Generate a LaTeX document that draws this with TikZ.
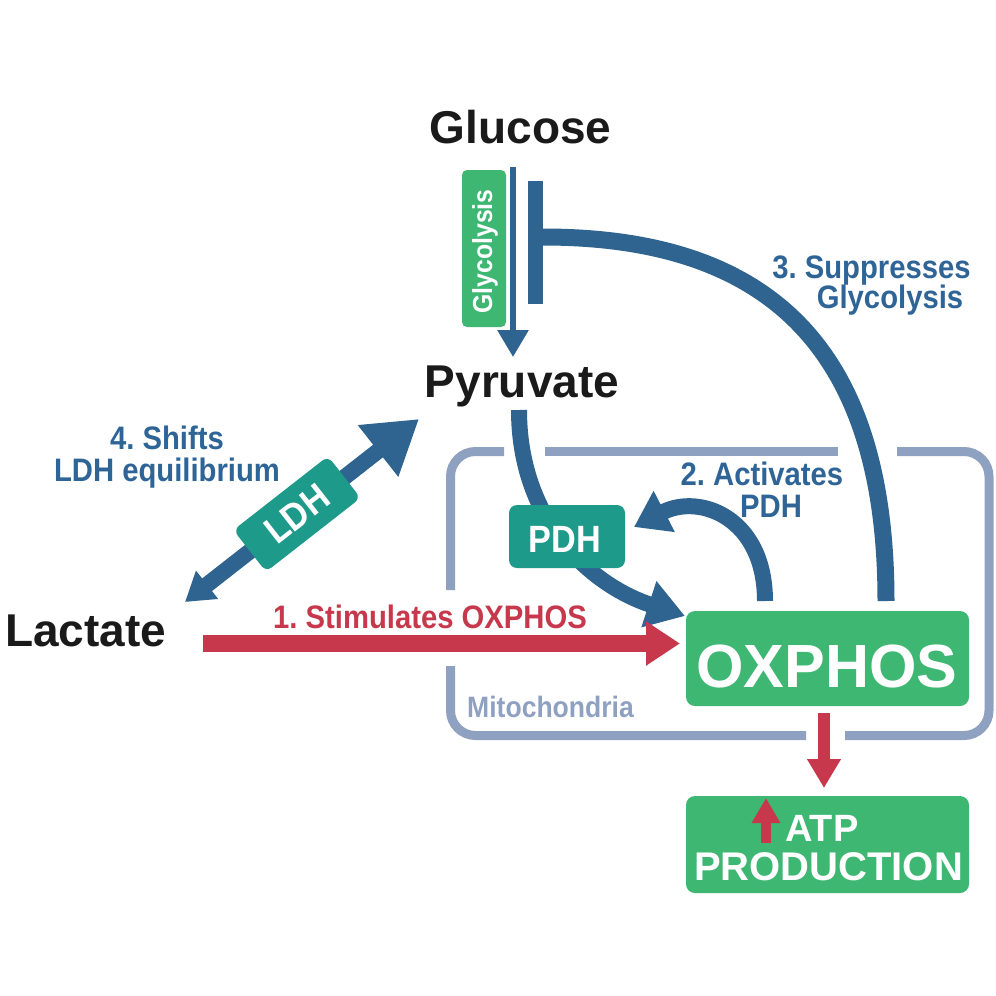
\documentclass[tikz,border=0pt]{standalone}
\usepackage{fontspec}
\setmainfont{Liberation Sans}
\newfontfamily\condf{Liberation Sans Bold}[FakeStretch=0.9]
\usetikzlibrary{arrows.meta}
\definecolor{dblue}{RGB}{47,100,144}
\definecolor{tblue}{RGB}{46,101,150}
\definecolor{mgreen}{RGB}{62,183,115}
\definecolor{tealbox}{RGB}{30,154,138}
\definecolor{mred}{RGB}{199,56,77}
\definecolor{mito}{RGB}{143,161,192}
\definecolor{ink}{RGB}{26,26,26}
\frenchspacing
\begin{document}
\begin{tikzpicture}[x=1pt,y=-1pt,
  big/.style={font=\fontsize{46}{46}\selectfont\bfseries, text=ink, inner sep=0pt, anchor=base},
  lbl/.style={font=\fontsize{32.5}{32.5}\selectfont\condf, text=tblue, inner sep=0pt, anchor=base},
  boxstyle/.style={inner sep=0pt, rounded corners=9pt, draw=none},
  wtxt/.style={text=white, inner sep=0pt, anchor=base},
  mitoline/.style={draw=mito, line width=9pt, rounded corners=25pt},
  conn/.style={draw=dblue, line width=16pt}
]
\useasboundingbox (0,0) rectangle (996,996);

% mitochondria outline
\draw[mitoline] (450.5,590) -- (450.5,451.5) -- (504,451.5);
\draw[mitoline] (545,451.5) -- (838,451.5);
\draw[mitoline] (897,451.5) -- (989,451.5) -- (989,735.5) -- (845,735.5);
\draw[mitoline] (806,735.5) -- (450.5,735.5) -- (450.5,666);
\node[lbl, text=mito, anchor=base west, font=\fontsize{29.5}{29.5}\selectfont\condf] (mitolabel) at (467,717) {Mitochondria};

% main metabolites
\node[big] (glucose) at (520.5,143) {Glucose};
\node[big] (pyruvate) at (522,397) {Pyruvate};
\node[big, anchor=base west] (lactate) at (5,646) {Lactate};

% glycolysis
\node[boxstyle, fill=mgreen, rounded corners=5pt, minimum width=44pt, minimum height=157pt] (glyco) at (484,248.5) {};
\node[wtxt, rotate=90, font=\fontsize{27.5}{27.5}\selectfont\condf] (glycotext) at (492,251.5) {Glycolysis};
\coordinate (g1) at (513,167);
\coordinate (g2) at (513,357);
\draw[dblue, line width=6pt, -{Triangle[length=27pt,width=30pt]}] (g1) -- (g2);

% suppression
\coordinate (s1) at (886,601);
\coordinate (s2) at (543,237);
\draw[conn, line width=17pt] (s1) .. controls (886,360) and (780,237) .. (s2);
\fill[dblue] (528,181) rectangle (543,304);

% pyruvate -> PDH -> OXPHOS
\coordinate (p1) at (519,410);
\coordinate (p2) at (685,616);
\draw[conn, -{Triangle[length=38pt,width=46pt]}] (p1) .. controls (519,520) and (590,585) .. (p2);

% activation arrow
\coordinate (a1) at (765,601);
\coordinate (a2) at (634,527);
\draw[conn, -{Triangle[length=34pt,width=44pt]}] (a1) .. controls (765,518) and (700,493) .. (a2);

% LDH double arrow
\coordinate (l1) at (185,602);
\coordinate (l2) at (419,419);
\draw[conn, {Triangle[length=28pt,width=34pt]}-{Triangle[length=52pt,width=62pt]}] (l1) -- (l2);
\node[boxstyle, fill=tealbox, rounded corners=7pt, minimum width=120pt, minimum height=53pt, rotate=38, text=white, font=\fontsize{38}{38}\selectfont\condf] (ldh) at (297,514) {LDH};

% PDH box
\node[boxstyle, fill=tealbox, rounded corners=8pt, minimum width=116pt, minimum height=63pt] (pdh) at (567,536.5) {};
\node[wtxt, font=\fontsize{38}{38}\selectfont\condf] (pdhtext) at (565,552) {PDH};

% red stimulation arrow
\coordinate (r1) at (203,643.5);
\coordinate (r2) at (680,643.5);
\draw[mred, line width=17pt, -{Triangle[length=34pt,width=42pt]}] (r1) -- (r2);

% OXPHOS
\node[boxstyle, fill=mgreen, minimum width=283pt, minimum height=95pt] (oxphos) at (827.5,658.5) {};
\node[wtxt, font=\fontsize{61}{61}\selectfont\bfseries] (oxtext) at (827,687) {OXPHOS};

% ATP
\coordinate (d1) at (824,713);
\coordinate (d2) at (824,788);
\draw[mred, line width=12pt, -{Triangle[length=29pt,width=32pt]}] (d1) -- (d2);
\node[boxstyle, fill=mgreen, minimum width=283pt, minimum height=97pt] (atp) at (827.5,844.5) {};
\coordinate (u1) at (766,843);
\coordinate (u2) at (766,798);
\draw[mred, line width=10pt, -{Triangle[length=25pt,width=27pt]}] (u1) -- (u2);
\node[wtxt, anchor=base west, font=\fontsize{38}{38}\selectfont\bfseries] (atptext) at (785,841) {ATP};
\node[wtxt, font=\fontsize{40}{40}\selectfont\bfseries] (prodtext) at (828.5,880) {PRODUCTION};

% labels
\node[lbl, text=mred] (stim) at (430,628) {1. Stimulates OXPHOS};
\node[lbl] (act1) at (762,485) {2. Activates};
\node[lbl] (act2) at (771,517) {PDH};
\node[lbl] (sup1) at (871.5,278) {3. Suppresses};
\node[lbl] (sup2) at (890,308) {Glycolysis};
\node[lbl] (shift1) at (167,449) {4. Shifts};
\node[lbl] (shift2) at (167,481) {LDH equilibrium};
\end{tikzpicture}
\end{document}
